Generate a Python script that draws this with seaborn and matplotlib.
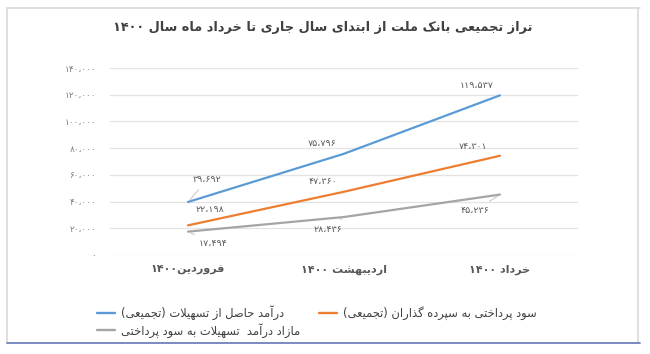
import matplotlib
matplotlib.use("Agg")
import matplotlib.pyplot as plt
import matplotlib.ticker as mticker
from matplotlib.lines import Line2D
import seaborn as sns
import pandas as pd

# ---------------- data ----------------
categories = ["فروردین۱۴۰۰", "اردیبهشت ۱۴۰۰", "خرداد ۱۴۰۰"]
series_names = [
    "درآمد حاصل از تسهیلات (تجمیعی)",
    "سود پرداختی به سپرده گذاران (تجمیعی)",
    "مازاد درآمد  تسهیلات به سود پرداختی",
]
income_values = [39692, 75796, 119537]
paid_values = [22198, 47360, 74301]
surplus_values = [17494, 28436, 45236]
title_text = "تراز تجمیعی بانک ملت از ابتدای سال جاری تا خرداد ماه سال ۱۴۰۰"
colors = ["#5B9BD5", "#ED7D31", "#A5A5A5"]

# ---------------- simple Arabic/Persian shaping ----------------
FORMS = {
    'ا': (0xFE8D, 0xFE8E, None, None), 'آ': (0xFE81, 0xFE82, None, None),
    'ب': (0xFE8F, 0xFE90, 0xFE91, 0xFE92), 'ت': (0xFE95, 0xFE96, 0xFE97, 0xFE98),
    'ث': (0xFE99, 0xFE9A, 0xFE9B, 0xFE9C), 'ج': (0xFE9D, 0xFE9E, 0xFE9F, 0xFEA0),
    'ح': (0xFEA1, 0xFEA2, 0xFEA3, 0xFEA4), 'خ': (0xFEA5, 0xFEA6, 0xFEA7, 0xFEA8),
    'د': (0xFEA9, 0xFEAA, None, None), 'ذ': (0xFEAB, 0xFEAC, None, None),
    'ر': (0xFEAD, 0xFEAE, None, None), 'ز': (0xFEAF, 0xFEB0, None, None),
    'س': (0xFEB1, 0xFEB2, 0xFEB3, 0xFEB4), 'ش': (0xFEB5, 0xFEB6, 0xFEB7, 0xFEB8),
    'ص': (0xFEB9, 0xFEBA, 0xFEBB, 0xFEBC), 'ع': (0xFEC9, 0xFECA, 0xFECB, 0xFECC),
    'ف': (0xFED1, 0xFED2, 0xFED3, 0xFED4), 'ل': (0xFEDD, 0xFEDE, 0xFEDF, 0xFEE0),
    'م': (0xFEE1, 0xFEE2, 0xFEE3, 0xFEE4), 'ن': (0xFEE5, 0xFEE6, 0xFEE7, 0xFEE8),
    'ه': (0xFEE9, 0xFEEA, 0xFEEB, 0xFEEC), 'و': (0xFEED, 0xFEEE, None, None),
    'پ': (0xFB56, 0xFB57, 0xFB58, 0xFB59), 'ک': (0xFB8E, 0xFB8F, 0xFB90, 0xFB91),
    'گ': (0xFB92, 0xFB93, 0xFB94, 0xFB95), 'ی': (0xFBFC, 0xFBFD, 0xFBFE, 0xFBFF),
    '\uFEFB': (0xFEFB, 0xFEFC, None, None), '\uFEF5': (0xFEF5, 0xFEF6, None, None),
}
MIRROR = {'(': ')', ')': '('}
DIGITS = set('۰۱۲۳۴۵۶۷۸۹0123456789')


def shape(text):
    # lam-alef ligatures
    text = text.replace('لا', '\uFEFB').replace('لآ', '\uFEF5')
    out = []
    n = len(text)
    for i, ch in enumerate(text):
        if ch not in FORMS:
            out.append(ch)
            continue
        iso, fin, ini, med = FORMS[ch]
        prev = text[i - 1] if i > 0 else ''
        nxt = text[i + 1] if i + 1 < n else ''
        jp = prev in FORMS and FORMS[prev][2] is not None
        jn = ini is not None and nxt in FORMS
        if jp and jn:
            code = med
        elif jp:
            code = fin
        elif jn:
            code = ini
        else:
            code = iso
        out.append(chr(code))
    s = ''.join(out)
    # visual reordering: digit runs stay LTR, rest reversed
    runs = []
    cur, cur_ltr = '', None
    for ch in s:
        is_ltr = ch in DIGITS or (ch in '،,' and cur_ltr)
        if cur_ltr is None or is_ltr == cur_ltr:
            cur += ch
            cur_ltr = is_ltr
        else:
            runs.append((cur, cur_ltr))
            cur, cur_ltr = ch, is_ltr
    if cur:
        runs.append((cur, cur_ltr))
    vis = []
    for r, ltr in reversed(runs):
        if ltr:
            vis.append(r)
        else:
            vis.append(''.join(MIRROR.get(c, c) for c in reversed(r)))
    return ''.join(vis)


def fa_num(v):
    s = f"{int(round(v)):,}"
    tr = str.maketrans('0123456789,', '۰۱۲۳۴۵۶۷۸۹،')
    return s.translate(tr)


# ---------------- dataframe ----------------
rows = []
for name, vals in zip(series_names, [income_values, paid_values, surplus_values]):
    for cat, v in zip(categories, vals):
        rows.append({"month": cat, "value": v, "series": name})
df = pd.DataFrame(rows)

# ---------------- plot ----------------
sns.set_theme(style="white")
plt.rcParams['font.family'] = ['DejaVu Sans']

fig = plt.figure(figsize=(6.5, 3.54), dpi=100)
ax = fig.add_axes([110 / 650, 1 - 255 / 354, 468 / 650, 187 / 354])

sns.lineplot(data=df, x="month", y="value", hue="series", palette=colors,
             hue_order=series_names, sort=False, linewidth=1.6, ax=ax, legend=False)

ax.set_xlim(-0.5, 2.5)
ax.set_ylim(0, 140000)
ax.set_yticks(range(0, 140001, 20000))
ax.yaxis.set_major_formatter(mticker.FuncFormatter(lambda v, p: fa_num(v)))
ax.set_xticks(range(len(categories)))
ax.set_xticklabels([shape(c) for c in categories], fontsize=8, fontweight='bold', color='#595959')
ax.tick_params(axis='y', labelsize=6.5, colors='#7F7F7F', length=0, pad=10)
ax.tick_params(axis='x', length=0, pad=7)
ax.grid(axis='y', color='#E3E3E3', linewidth=0.9)
ax.grid(axis='x', visible=False)
for sp in ax.spines.values():
    sp.set_visible(False)
ax.set_xlabel('')
ax.set_ylabel('')

# data labels (offset in pixels), leader lines for some
label_specs = [
    (income_values, [(19, 22, True), (-22, 10, False), (-23, 10, False)]),
    (paid_values, [(22, 16, False), (-21, 10, False), (-27, 9, False)]),
    (surplus_values, [(25, -12, True), (-16, -12, True), (-25, -16, True)]),
]
for vals, specs in label_specs:
    for i, (v, (dx, dy, leader)) in enumerate(zip(vals, specs)):
        kw = {}
        if leader:
            kw['arrowprops'] = dict(arrowstyle='-', color='#C8C8C8', lw=0.8,
                                    shrinkA=2, shrinkB=2)
        ax.annotate(fa_num(v), xy=(i, v), xytext=(dx, dy), textcoords='offset pixels',
                    ha='center', va='center', fontsize=6.8, color='#595959', **kw)

# title
fig.text(323 / 650, 1 - 28 / 354, shape(title_text), ha='center', va='center',
         fontsize=9.3, fontweight='bold', color='#404040')

# legend: column-wise order gives blue/gray on left, orange on right
handles = [Line2D([], [], color=colors[0], lw=1.7),
           Line2D([], [], color=colors[2], lw=1.7),
           Line2D([], [], color=colors[1], lw=1.7)]
labels = [shape(series_names[0]), shape(series_names[2]), shape(series_names[1])]
fig.legend(handles, labels, loc='upper left', bbox_to_anchor=(97 / 650, 1 - 305 / 354),
           ncol=2, frameon=False, fontsize=8.3, handlelength=1.6, handletextpad=0.5,
           columnspacing=1.6, labelspacing=0.25, borderpad=0, borderaxespad=0,
           labelcolor='#404040')

# outer frame
frame_c = '#D9D9D9'
fig.add_artist(Line2D([7 / 650, 7 / 650], [1 - 8 / 354, 1 - 342 / 354], color=frame_c, lw=1.2,
                      transform=fig.transFigure))
fig.add_artist(Line2D([7 / 650, 640 / 650], [1 - 8 / 354, 1 - 8 / 354], color=frame_c, lw=1.2,
                      transform=fig.transFigure))
fig.add_artist(Line2D([638 / 650, 638 / 650], [1 - 8 / 354, 1 - 342 / 354], color=frame_c, lw=1.2,
                      transform=fig.transFigure))
fig.add_artist(Line2D([7 / 650, 640 / 650], [1 - 343 / 354, 1 - 343 / 354], color='#7080BC', lw=1.3,
                      transform=fig.transFigure))

fig.savefig("out.png", dpi=100)
